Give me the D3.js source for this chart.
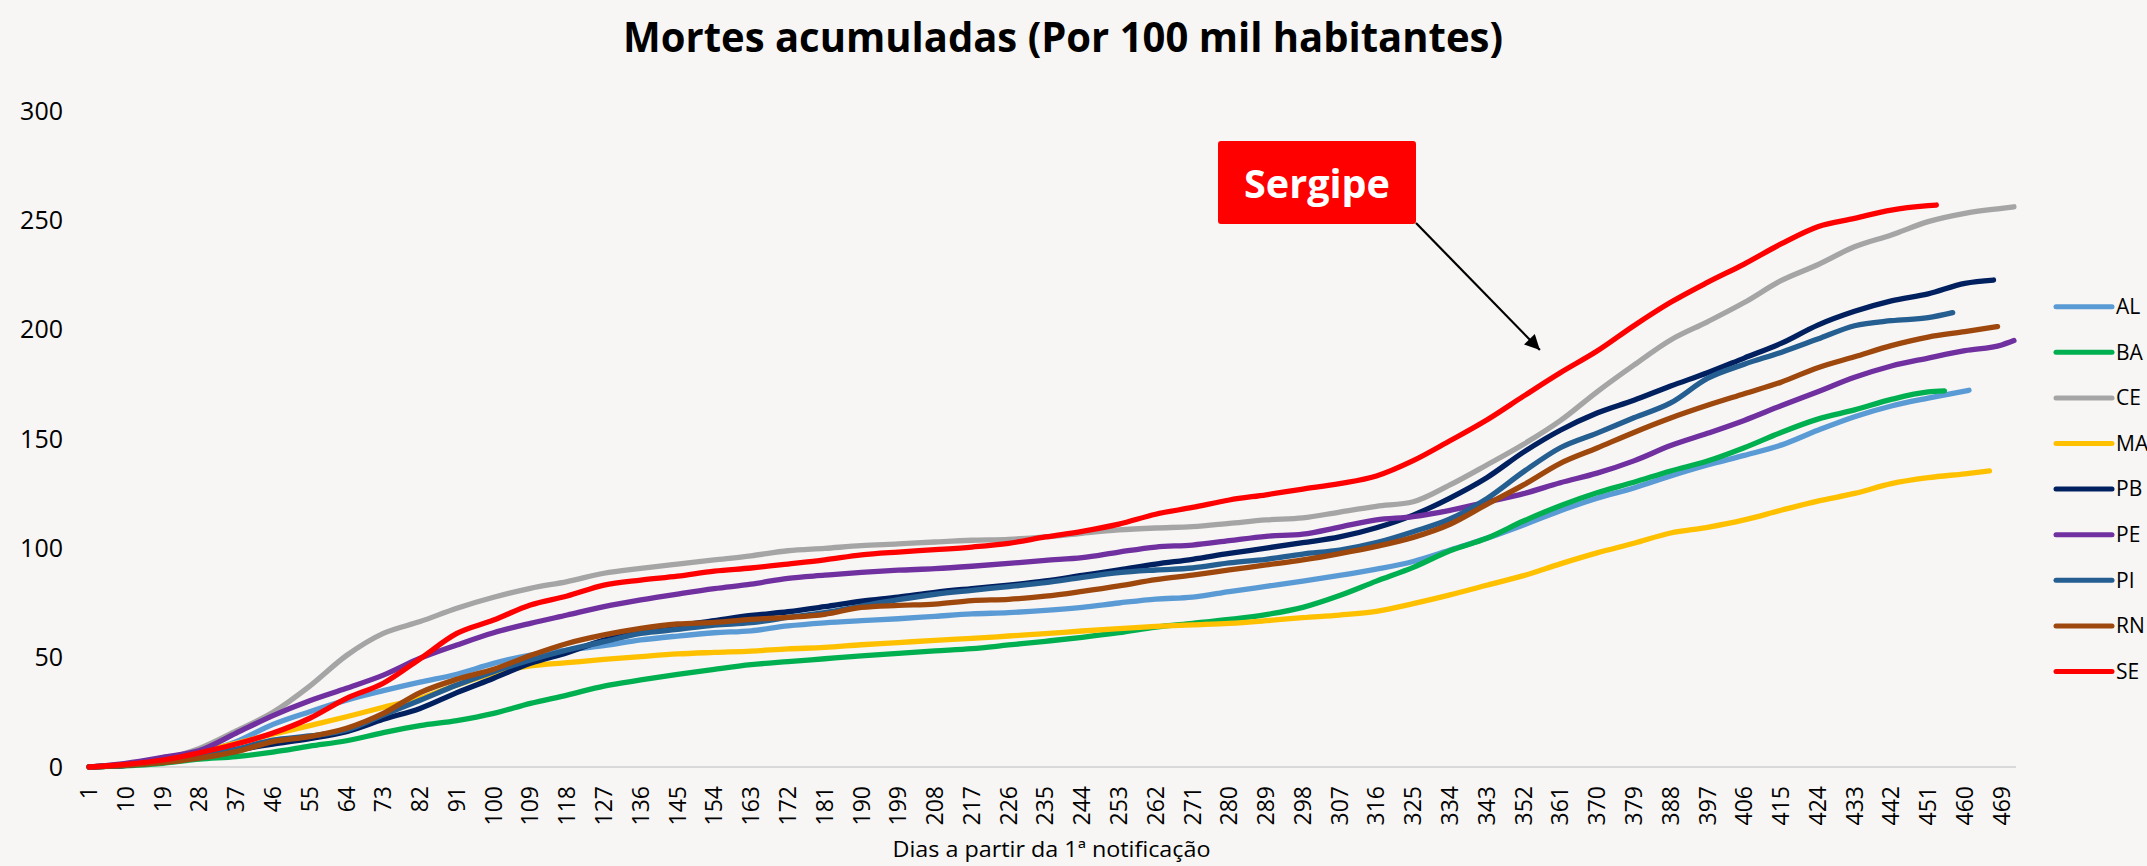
<!DOCTYPE html>
<html>
<head>
<meta charset="utf-8">
<title>Mortes acumuladas</title>
<script src="https://cdn.jsdelivr.net/npm/d3@7"></script>
<style>
	html, body { margin: 0; padding: 0; background: #F7F6F4; }
	svg { display: block; }
	text { font-family: "Open Sans", "Noto Sans", sans-serif; fill: #000; }
</style>
</head>
<body>
<div id="chart"></div>
<script>
// --------- Data --------- //
// estados, na ordem da legenda
var estados = ["AL", "BA", "CE", "MA", "PB", "PE", "PI", "RN", "SE"];
var cores = ["#5B9BD5", "#00B050", "#A5A5A5", "#FFC000", "#002060", "#7030A0", "#255E91", "#9E480E", "#FF0000"];

// dias (um a cada 9 dias, como os rotulos)
var diasAmostra = [1, 10, 19, 28, 37, 46, 55, 64, 73, 82, 91, 100, 109, 118, 127, 136, 145, 154, 163, 172,
	181, 190, 199, 208, 217, 226, 235, 244, 253, 262, 271, 280, 289, 298, 307, 316, 325, 334, 343, 352,
	361, 370, 379, 388, 397, 406, 415, 424, 433, 442, 451, 460, 469];

// ultimo dia de cada serie (o ultimo valor de cada lista vale para este dia)
var diaFinal = [461, 455, 472, 466, 467, 472, 457, 468, 453];

var AL = [0, 1, 3.4, 6.5, 11.6, 19.5, 25.3, 30.6, 34.9, 38.8,
	42.4, 47.4, 51.2, 53.5, 55.5, 58.1, 59.9, 61.4, 62.3, 64.5,
	65.9, 66.9, 67.8, 68.9, 70, 70.6, 71.6, 73, 75, 76.8,
	77.7, 80.2, 82.6, 85, 87.6, 90.5, 94, 99.2, 104.6, 110.7,
	117.2, 122.9, 127.6, 133.1, 138.1, 142.5, 147.2, 154, 160.2, 165.1,
	168.7, 172.3];
var BA = [0, 0.5, 1.7, 3.6, 4.8, 6.8, 9.5, 12, 15.7, 18.9,
	21.2, 24.5, 29.1, 32.9, 37, 39.8, 42.4, 44.7, 46.8, 48.2,
	49.5, 50.8, 52, 53.1, 54.1, 55.8, 57.5, 59.3, 61.4, 64,
	65.7, 67.5, 69.7, 73, 78.4, 85, 91.3, 98.9, 104.6, 112.5,
	119.5, 125.4, 130.2, 135.4, 139.9, 146, 153, 159.1, 163.3, 168.1,
	171.5, 172];
var CE = [0, 1.2, 3.6, 8.5, 16.5, 25, 37, 51, 61.1, 66.5,
	72.6, 77.6, 81.7, 84.8, 88.6, 90.8, 92.8, 94.7, 96.6, 98.9,
	100, 101.2, 102, 102.9, 103.7, 104.1, 105.2, 106.9, 108.4, 109.3,
	109.9, 111.4, 113, 113.9, 116.6, 119.2, 121.3, 129, 138.1, 147.6,
	158.4, 171.6, 183.8, 195.3, 203.6, 212.4, 222.4, 229.7, 237.9, 243.3,
	249.4, 253.2, 255.5, 256.2];
var MA = [0, 1, 3.4, 7, 10.8, 15, 18.9, 23, 27.3, 31.4,
	37.5, 42.8, 46.2, 47.7, 49.2, 50.5, 51.7, 52.4, 53, 54,
	54.7, 55.9, 56.9, 57.9, 58.8, 59.9, 61, 62.2, 63.3, 64.3,
	65, 65.7, 66.9, 68.3, 69.5, 71.2, 74.7, 78.7, 83.1, 87.5,
	92.9, 97.9, 102.3, 107, 109.6, 113, 117.4, 121.6, 125.1, 129.6,
	132.3, 134.1, 135.4];
var PB = [0, 0.8, 2.3, 4.7, 7.8, 10.5, 13, 16.2, 21.8, 26.8,
	34, 40.6, 47.4, 52.3, 58, 61.5, 64.5, 66.9, 69.3, 71,
	73.3, 75.8, 77.7, 79.9, 81.6, 83.2, 85.1, 87.6, 90.1, 92.8,
	95, 97.7, 100.1, 102.6, 105.2, 109.4, 115.2, 123, 132.3, 144,
	154, 161.9, 167.7, 174.2, 180.3, 187, 193.7, 202.1, 208.4, 213.2,
	216.4, 221.2, 222.7];
var PE = [0, 1.7, 4.4, 7.5, 15.5, 23.5, 30.3, 36, 42, 49.7,
	55.8, 61.4, 65.7, 69.5, 73.3, 76.4, 79.1, 81.6, 83.6, 86.3,
	87.7, 89, 90, 90.7, 91.8, 93.1, 94.5, 95.7, 98.3, 100.6,
	101.5, 103.5, 105.5, 106.5, 109.7, 113, 114.5, 117.4, 121.2, 125,
	130, 134.4, 140, 147, 152.6, 158.5, 165.2, 171.6, 178.2, 183.4,
	187, 190.4, 193, 195];
var PI = [0, 0.8, 2.3, 4.5, 8.2, 12.3, 14.2, 16.9, 23.8, 30.5,
	37.5, 43.6, 48.9, 53.5, 57.3, 61.1, 62.9, 64.9, 66, 68.4,
	70.6, 73.6, 76.5, 79, 80.8, 82.5, 84.3, 86.7, 88.9, 90.1,
	91, 93.3, 95, 97.4, 99.2, 102.6, 107.6, 113.4, 122.7, 135,
	146, 152.7, 159.7, 166.5, 177.7, 184.2, 189.6, 195.7, 201.8, 204.1,
	205.5, 207.8];
var RN = [0, 0.8, 2, 4, 7, 11.6, 13.9, 17.7, 24.5, 34,
	40.1, 44.7, 51, 56.5, 60.4, 63.4, 65.4, 66.1, 67.5, 68.4,
	69.8, 73, 73.9, 74.5, 76.1, 76.7, 78.1, 80.3, 82.8, 85.7,
	87.8, 90.1, 92.4, 94.7, 97.6, 100.9, 105, 111, 120.1, 129,
	138.9, 145.9, 153, 159.6, 165.4, 170.7, 176, 182.6, 187.6, 192.7,
	196.6, 199.1, 201.4];
var SE = [0, 1.2, 3.2, 6.5, 10.5, 15.5, 22.3, 31.4, 38.3, 49.5,
	61.1, 67.2, 74.1, 78.2, 83.2, 85.5, 87.3, 89.6, 91, 92.8,
	94.7, 97, 98.3, 99.4, 100.6, 102.3, 105.2, 107.8, 111.1, 115.6,
	118.7, 122.1, 124.5, 127.1, 129.6, 133.1, 140.1, 149.2, 158.7, 169.6,
	180.3, 190.2, 201.8, 212.5, 221.6, 230, 239.2, 247.1, 250.9, 254.7,
	256.7, 257];

var valores = [AL, BA, CE, MA, PB, PE, PI, RN, SE];

// eixo x: 472 dias, rotulos a cada 9
var totalDias = 472;
var rotulosX = [1, 10, 19, 28, 37, 46, 55, 64, 73, 82, 91, 100, 109, 118, 127, 136, 145, 154, 163, 172,
	181, 190, 199, 208, 217, 226, 235, 244, 253, 262, 271, 280, 289, 298, 307, 316, 325, 334, 343, 352,
	361, 370, 379, 388, 397, 406, 415, 424, 433, 442, 451, 460, 469];
var rotulosY = [0, 50, 100, 150, 200, 250, 300];
// --------- /Data --------- //


// --------- Chart --------- //
var W = 2147, H = 866;
var plot = {left: 87, right: 2016, top: 111, bottom: 767};

var svg = d3.select("#chart").append("svg")
	.attr("width", W)
	.attr("height", H);

// category axis: each day is a band, the point sits in the middle of it
var x = d3.scaleLinear().domain([0.5, totalDias + 0.5]).range([plot.left, plot.right]);
var y = d3.scaleLinear().domain([0, 300]).range([plot.bottom, plot.top]);

// title
svg.append("text")
	.attr("x", 1063)
	.attr("y", 52)
	.attr("text-anchor", "middle")
	.attr("font-size", 42)
	.attr("font-weight", "bold")
	.attr("textLength", 880)
	.attr("lengthAdjust", "spacingAndGlyphs")
	.text("Mortes acumuladas (Por 100 mil habitantes)");

// base line (only the zero line is drawn)
svg.append("line")
	.attr("x1", plot.left).attr("x2", plot.right)
	.attr("y1", y(0)).attr("y2", y(0))
	.attr("stroke", "#D9D9D9")
	.attr("stroke-width", 2);

// y labels
svg.append("g").selectAll("text")
	.data(rotulosY)
	.enter().append("text")
	.attr("x", 63)
	.attr("y", function(d){ return y(d); })
	.attr("dy", "0.35em")
	.attr("text-anchor", "end")
	.attr("font-size", 25)
	.text(function(d){ return d; });

// x labels, rotated
svg.append("g").selectAll("text")
	.data(rotulosX)
	.enter().append("text")
	.attr("transform", function(d){ return "translate(" + x(d) + ",786) rotate(-90)"; })
	.attr("dy", "0.35em")
	.attr("text-anchor", "end")
	.attr("font-size", 23)
	.text(function(d){ return d; });

svg.append("text")
	.attr("x", (plot.left + plot.right) / 2)
	.attr("y", 857)
	.attr("text-anchor", "middle")
	.attr("font-size", 22)
	.attr("textLength", 318)
	.attr("lengthAdjust", "spacingAndGlyphs")
	.text("Dias a partir da 1ª notificação");

// series
var line = d3.line()
	.x(function(d){ return x(d.dia); })
	.y(function(d){ return y(d.valor); })
	.curve(d3.curveMonotoneX);

var series = estados.map(function(uf, i){
	var vals = valores[i];
	var pts = vals.map(function(v, j){
		var dia = (j === vals.length - 1) ? diaFinal[i] : diasAmostra[j];
		return {dia: dia, valor: v};
	});
	return {uf: uf, cor: cores[i], pts: pts};
});

svg.append("g").selectAll("path")
	.data(series)
	.enter().append("path")
	.attr("d", function(d){ return line(d.pts); })
	.attr("fill", "none")
	.attr("stroke", function(d){ return d.cor; })
	.attr("stroke-width", 5.3)
	.attr("stroke-linejoin", "round")
	.attr("stroke-linecap", "round");

// legend
var leg = svg.append("g").selectAll("g")
	.data(series)
	.enter().append("g")
	.attr("transform", function(d, i){ return "translate(0," + (306.7 + i * 45.6) + ")"; });

leg.append("line")
	.attr("x1", 2056).attr("x2", 2112)
	.attr("stroke", function(d){ return d.cor; })
	.attr("stroke-width", 5)
	.attr("stroke-linecap", "round");

leg.append("text")
	.attr("x", 2116)
	.attr("dy", "0.35em")
	.attr("font-size", 21)
	.text(function(d){ return d.uf; });

// annotation "Sergipe"
svg.append("defs").append("marker")
	.attr("id", "seta")
	.attr("viewBox", "0 0 10 10")
	.attr("refX", 10).attr("refY", 5)
	.attr("markerUnits", "userSpaceOnUse")
	.attr("markerWidth", 17).attr("markerHeight", 15)
	.attr("orient", "auto")
	.append("path")
	.attr("d", "M0,0 L10,5 L0,10 Z")
	.attr("fill", "#000");

svg.append("rect")
	.attr("x", 1218).attr("y", 141)
	.attr("width", 198).attr("height", 83)
	.attr("rx", 3)
	.attr("fill", "#FF0000");

svg.append("text")
	.attr("x", 1317)
	.attr("y", 198)
	.attr("text-anchor", "middle")
	.attr("font-size", 40)
	.attr("font-weight", "bold")
	.attr("textLength", 146)
	.attr("lengthAdjust", "spacingAndGlyphs")
	.style("fill", "#fff")
	.text("Sergipe");

svg.append("line")
	.attr("x1", 1416).attr("y1", 223)
	.attr("x2", x(356)).attr("y2", y(190.7))
	.attr("stroke", "#000")
	.attr("stroke-width", 2.2)
	.attr("marker-end", "url(#seta)");
// --------- /Chart --------- //
</script>
</body>
</html>
